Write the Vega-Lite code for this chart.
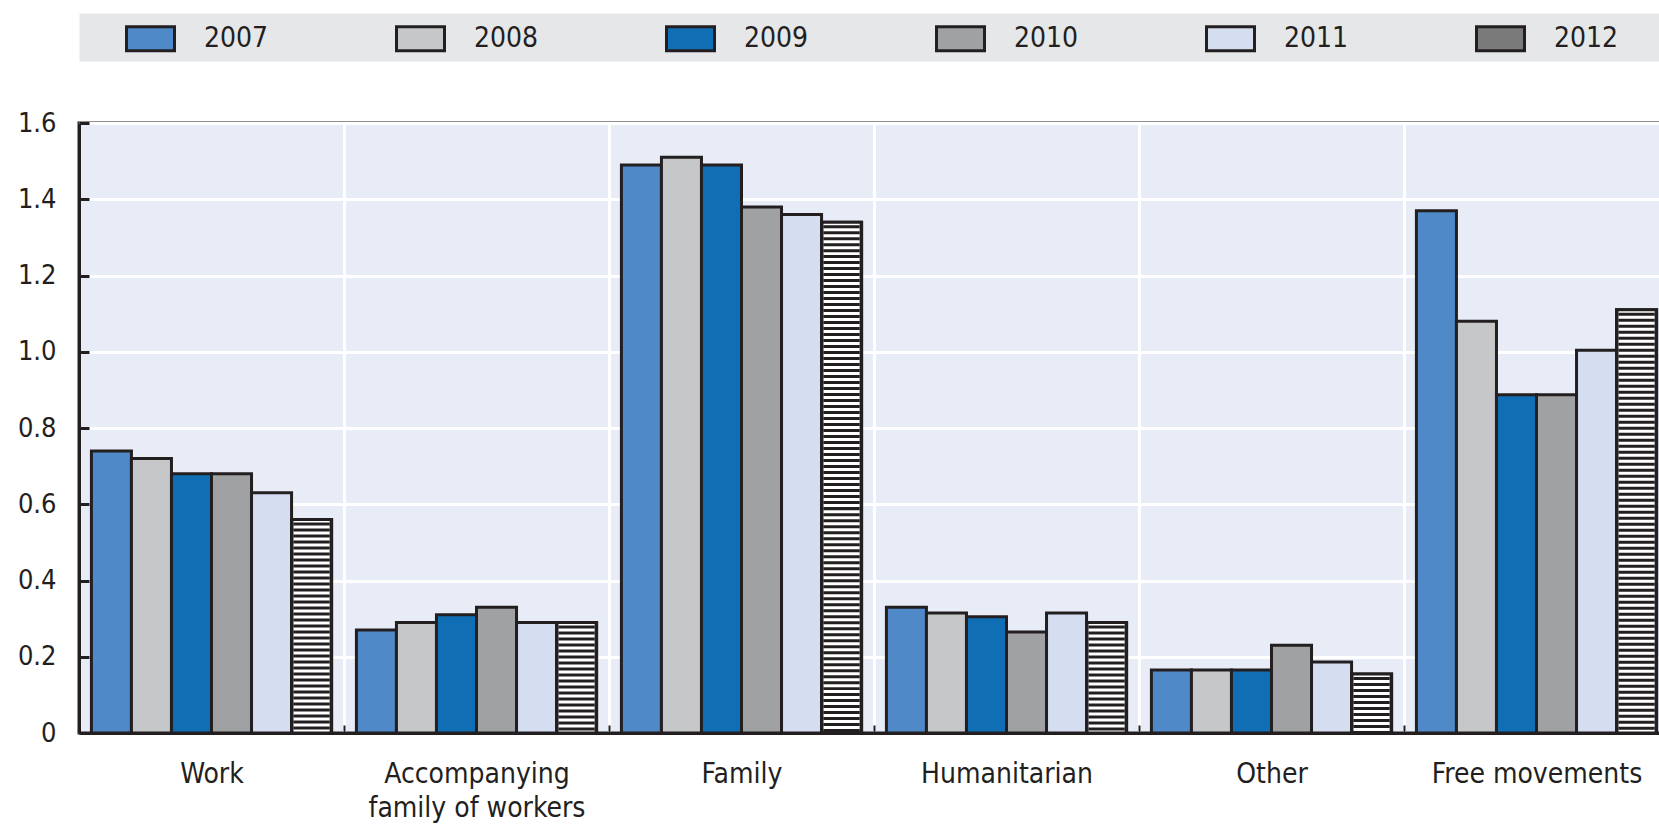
{
  "$schema": "https://vega.github.io/schema/vega-lite/v6.json",
  "autosize": {"type": "none"},
  "padding": {"left": 79, "top": 123, "right": -10, "bottom": 93},
  "width": 1590,
  "height": 610,
  "config": {
    "font": "'Liberation Sans Narrow', 'DejaVu Sans Condensed', 'Liberation Sans', sans-serif",
    "view": {"fill": "#E8ECF6", "stroke": "#231F20", "strokeWidth": 3},
    "axis": {"labelFont": "'Liberation Sans Narrow', 'DejaVu Sans Condensed', 'Liberation Sans', sans-serif", "labelColor": "#231F20"},
    "legend": {"labelFont": "'Liberation Sans Narrow', 'DejaVu Sans Condensed', 'Liberation Sans', sans-serif", "labelColor": "#231F20"}
  },
  "data": {
    "values": [
      {"cat": "Work", "year": "2007", "value": 0.74},
      {"cat": "Work", "year": "2008", "value": 0.72},
      {"cat": "Work", "year": "2009", "value": 0.68},
      {"cat": "Work", "year": "2010", "value": 0.68},
      {"cat": "Work", "year": "2011", "value": 0.63},
      {"cat": "Work", "year": "2012", "value": 0.56},
      {"cat": "Accompanying family of workers", "year": "2007", "value": 0.27},
      {"cat": "Accompanying family of workers", "year": "2008", "value": 0.29},
      {"cat": "Accompanying family of workers", "year": "2009", "value": 0.31},
      {"cat": "Accompanying family of workers", "year": "2010", "value": 0.33},
      {"cat": "Accompanying family of workers", "year": "2011", "value": 0.29},
      {"cat": "Accompanying family of workers", "year": "2012", "value": 0.29},
      {"cat": "Family", "year": "2007", "value": 1.49},
      {"cat": "Family", "year": "2008", "value": 1.51},
      {"cat": "Family", "year": "2009", "value": 1.49},
      {"cat": "Family", "year": "2010", "value": 1.38},
      {"cat": "Family", "year": "2011", "value": 1.36},
      {"cat": "Family", "year": "2012", "value": 1.34},
      {"cat": "Humanitarian", "year": "2007", "value": 0.33},
      {"cat": "Humanitarian", "year": "2008", "value": 0.315},
      {"cat": "Humanitarian", "year": "2009", "value": 0.305},
      {"cat": "Humanitarian", "year": "2010", "value": 0.265},
      {"cat": "Humanitarian", "year": "2011", "value": 0.315},
      {"cat": "Humanitarian", "year": "2012", "value": 0.29},
      {"cat": "Other", "year": "2007", "value": 0.165},
      {"cat": "Other", "year": "2008", "value": 0.165},
      {"cat": "Other", "year": "2009", "value": 0.165},
      {"cat": "Other", "year": "2010", "value": 0.23},
      {"cat": "Other", "year": "2011", "value": 0.186},
      {"cat": "Other", "year": "2012", "value": 0.155},
      {"cat": "Free movements", "year": "2007", "value": 1.37},
      {"cat": "Free movements", "year": "2008", "value": 1.08},
      {"cat": "Free movements", "year": "2009", "value": 0.887},
      {"cat": "Free movements", "year": "2010", "value": 0.887},
      {"cat": "Free movements", "year": "2011", "value": 1.004},
      {"cat": "Free movements", "year": "2012", "value": 1.11}
    ]
  },
  "resolve": {"axis": {"x": "independent"}},
  "layer": [
    {
      "mark": {"type": "bar", "stroke": "#231F20", "strokeWidth": 3},
      "encoding": {
        "x": {
          "field": "cat", "type": "nominal", "sort": null,
          "scale": {"paddingInner": 0, "paddingOuter": 0},
          "axis": {
            "orient": "bottom", "title": null, "labelAngle": 0, "labelFontSize": 28,
            "labelPadding": 35, "labelLineHeight": 34, "labelLimit": 0,
            "labelExpr": "datum.label == 'Accompanying family of workers' ? ['Accompanying', 'family of workers'] : datum.label",
            "tickBand": "extent", "ticks": true, "tickSize": -8, "tickWidth": 2, "tickColor": "#231F20",
            "domainColor": "#231F20", "domainWidth": 3,
            "grid": true, "gridColor": "#FFFFFF", "gridWidth": 3
          }
        },
        "xOffset": {"field": "year", "type": "nominal", "sort": ["2007", "2008", "2009", "2010", "2011", "2012"], "scale": {"paddingInner": 0, "paddingOuter": 0.31}},
        "y": {
          "field": "value", "type": "quantitative",
          "scale": {"domain": [0, 1.6], "nice": false, "zero": true},
          "axis": {
            "title": null, "values": [0, 0.2, 0.4, 0.6, 0.8, 1.0, 1.2, 1.4, 1.6],
            "labelExpr": "datum.value == 0 ? '0' : format(datum.value, '.1f')",
            "labelFontSize": 27, "labelPadding": 33,
            "tickSize": -10, "tickWidth": 3, "tickColor": "#231F20",
            "domainColor": "#231F20", "domainWidth": 3,
            "grid": true, "gridColor": "#FFFFFF", "gridWidth": 3
          }
        },
        "color": {
          "field": "year", "type": "nominal",
          "scale": {
            "domain": ["2007", "2008", "2009", "2010", "2011", "2012"],
            "range": ["#4F89C7", "#C6C7C9", "#106FB4", "#A0A1A3", "#D4DEF0", "#7A7A7A"]
          },
          "legend": {
            "orient": "none", "legendX": 46, "legendY": -110, "direction": "horizontal", "columns": 6,
            "title": null, "symbolType": "M-1,-0.5H1V0.5H-1Z", "symbolSize": 2304,
            "symbolStrokeColor": "#231F20", "symbolStrokeWidth": 3, "symbolOpacity": 1,
            "labelFontSize": 28, "labelOffset": 28, "columnPadding": 121, "padding": 0
          }
        }
      }
    },
    {
      "transform": [{"filter": "datum.year == '2012'"}],
      "mark": {"type": "rule", "color": "#231F20", "strokeWidth": 36},
      "encoding": {
        "x": {
          "field": "cat", "type": "nominal", "sort": null,
          "axis": {"orient": "top", "offset": 86, "title": null, "labels": false, "ticks": false, "grid": false, "domainColor": "#E6E7E9", "domainWidth": 48}
        },
        "xOffset": {"field": "year", "type": "nominal"},
        "y": {"field": "value", "type": "quantitative"},
        "y2": {"datum": 0}
      }
    },
    {
      "transform": [{"filter": "datum.year == '2012'"}],
      "mark": {"type": "rule", "color": "#FFFFFF", "strokeWidth": 36, "strokeDash": [3, 3]},
      "encoding": {
        "x": {"field": "cat", "type": "nominal", "sort": null, "axis": null},
        "xOffset": {"field": "year", "type": "nominal"},
        "y": {"field": "value", "type": "quantitative"},
        "y2": {"datum": 0}
      }
    },
    {
      "transform": [{"filter": "datum.year == '2012'"}],
      "mark": {"type": "bar", "fillOpacity": 0, "stroke": "#231F20", "strokeWidth": 3},
      "encoding": {
        "x": {"field": "cat", "type": "nominal", "sort": null, "axis": null},
        "xOffset": {"field": "year", "type": "nominal"},
        "y": {"field": "value", "type": "quantitative"}
      }
    }
  ]
}
